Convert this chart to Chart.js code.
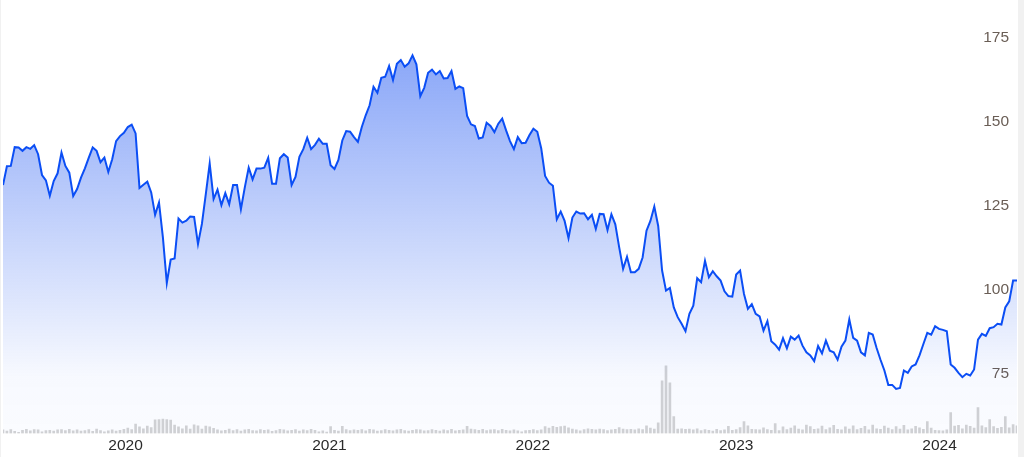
<!DOCTYPE html>
<html>
<head>
<meta charset="utf-8">
<script src="https://cdn.jsdelivr.net/npm/chart.js@4.4.1/dist/chart.umd.min.js"></script>
<style>
  html, body { margin: 0; padding: 0; background: #f1f1f1; }
  #wrap { position: absolute; left: 1px; top: 0; width: 1017px; height: 457px; background: #fff; }
</style>
</head>
<body>
<div id="wrap"><canvas id="priceChart"></canvas></div>
<script>
// Cierres semanales, empezando la semana del 26 de mayo de 2019
const startDate = Date.UTC(2019, 4, 26);

const closes = [
  131.2,136.8,136.9,142.5,142.4,141.4,142.5,142.0,143.1,140.4,
  134.2,132.6,128.0,132.4,134.7,140.9,136.9,134.9,127.9,130.0,
  133.4,136.2,139.4,142.4,141.4,138.0,139.4,135.1,138.9,144.3,
  145.8,146.8,148.5,149.2,146.6,130.3,131.3,132.2,129.0,122.3,
  126.0,115.6,102.0,109.0,109.3,121.2,120.0,120.6,121.8,121.7,
  113.6,119.6,128.5,137.6,
  127.0,129.8,125.2,128.8,125.5,131.2,131.2,124.0,130.5,136.4,
  132.9,136.1,136.1,136.4,139.3,131.6,131.6,139.2,140.4,139.4,
  131.2,133.6,139.6,141.9,145.3,141.9,143.2,145.0,143.5,143.5,
  137.1,136.0,138.7,144.5,147.3,147.1,145.5,144.1,148.5,152.0,
  155.0,160.5,158.7,163.2,163.5,166.7,162.5,167.4,168.5,166.5,
  167.5,
  169.9,167.2,157.7,160.2,164.7,165.6,164.2,165.2,163.0,163.1,
  165.2,159.9,160.6,160.1,151.8,149.3,148.8,145.1,145.4,149.8,
  148.8,147.0,149.5,151.0,147.5,144.3,141.9,145.5,143.7,143.8,
  146.1,148.0,147.1,142.2,133.9,131.9,131.0,121.0,123.3,120.5,
  115.4,121.5,123.3,122.7,122.8,121.0,122.3,118.1,122.6,122.5,
  117.8,
  122.5,119.5,112.6,106.2,109.8,105.2,105.2,106.2,109.6,117.6,
  120.5,124.8,119.0,105.7,99.7,100.5,94.7,91.8,89.8,87.6,
  92.8,95.2,103.4,102.2,108.6,103.7,105.5,104.0,102.7,99.5,
  98.1,97.9,104.5,105.7,98.7,94.3,95.7,92.8,92.0,87.8,
  90.6,84.6,83.6,82.1,85.5,82.5,86.0,85.1,86.3,
  83.3,81.3,80.4,78.7,83.2,81.0,84.8,81.8,81.3,79.1,
  83.0,84.8,91.1,85.6,84.8,81.3,80.4,87.1,86.6,82.6,
  79.1,75.9,71.6,71.6,70.4,70.7,75.9,75.2,77.1,77.7,
  80.4,83.8,87.1,86.6,89.1,88.3,88.0,87.6,77.7,76.7,
  75.2,73.9,74.9,74.4,76.2,85.1,86.8,86.2,88.5,88.8,
  89.8,89.6,94.7,96.5,102.7,102.7
];

// Volumen semanal (millones, aproximado)
const volumes = [
  1.2,0.8,1.3,0.7,0.4,1.1,1.4,0.9,1.3,1.2,0.6,1.0,1.1,0.8,1.2,1.3,1.0,1.4,0.9,1.2,0.8,1.0,1.3,0.7,1.5,1.0,0.6,0.9,1.2,0.8,1.1,
  1.4,1.8,1.3,3.2,2.2,1.6,2.5,
  2.0,4.6,4.7,4.8,4.7,4.5,
  2.8,2.2,1.6,2.6,1.5,2.9,2.6,1.5,2.5,2.2,1.7,
  1.2,0.9,1.1,1.5,1.0,1.3,0.8,1.2,1.4,1.0,0.9,1.3,1.1,1.2,0.7,1.0,1.4,1.2,0.9,1.1,1.3,0.8,1.2,1.0,1.4,1.1,0.6,0.9,
  0.5,2.3,1.1,0.8,2.4,1.3,1.0,1.2,
  1.1,1.3,0.9,1.4,1.2,0.8,1.0,1.3,1.1,0.9,1.2,1.4,1.0,0.8,1.1,1.3,1.2,0.9,1.0,1.3,1.1,0.8,1.2,1.0,1.4,0.9,1.1,1.2,2.4,1.5,1.3,1.1,1.4,1.0,1.2,
  1.3,1.0,1.4,1.1,0.9,
  1.2,0.9,0.6,1.0,1.1,1.3,1.0,1.2,2.3,1.8,2.4,2.1,2.3,2.5,1.9,1.5,
  1.2,0.9,1.3,1.6,1.4,1.2,1.5,1.3,1.0,1.2,1.4,2.0,1.5,1.3,1.4,1.2,1.6,1.3,2.6,1.8,1.5,
  3.6,17.7,22.7,17.0,5.7,
  1.5,1.6,1.4,1.5,1.2,1.6,1.0,1.3,1.1,0.8,1.4,1.0,1.2,2.4,1.1,1.3,2.0,4.0,2.6,1.4,1.3,1.2,1.9,1.3,1.1,
  3.3,1.0,2.2,
  1.3,1.8,2.6,1.5,1.2,2.8,2.3,1.4,1.6,2.5,1.3,1.9,2.7,1.4,1.2,2.2,1.5,2.6,1.3,1.7,2.4,1.2,2.8,1.6,1.4,2.5,1.8,1.3,2.3,1.5,2.7,1.2,1.6,2.4,1.9,1.4,
  4.0,1.8,1.1,1.0,0.9,1.2,
  7.0,2.5,2.7,1.6,2.8,2.4,1.8,8.7,2.6,2.0,4.7,2.3,1.7,2.1,5.7,1.9,3.0,2.6
];

const years = [2020, 2021, 2022, 2023, 2024];
const priceTicks = [75, 100, 125, 150, 175];

const DAY = 86400000;
const yearDays = years.map(y => (Date.UTC(y, 0, 1) - startDate) / DAY);
const pricePoints = closes.map((c, i) => ({ x: i * 7, y: c }));
const volumePoints = volumes.map((v, i) => ({ x: i * 7, y: v }));

const fontFamily = "'Liberation Sans', Arial, sans-serif";

function fillGradient(context) {
    const chart = context.chart;
    const area = chart.chartArea;
    if (!area) return 'rgba(10,70,240,0.2)';
    const g = chart.ctx.createLinearGradient(0, area.top, 0, area.bottom);
    g.addColorStop(0, 'rgba(10,70,240,0.55)');
    g.addColorStop(0.87, 'rgba(10,70,240,0.03)');
    g.addColorStop(1, 'rgba(10,70,240,0.02)');
    return g;
}

new Chart('priceChart', {
    type: 'line',
    data: {
        datasets: [{
            type: 'line',
            data: pricePoints,
            yAxisID: 'y',
            borderColor: '#0b4ef5',
            borderWidth: 2,
            backgroundColor: fillGradient,
            fill: 'start',
            tension: 0,
            pointRadius: 0,
            order: 0
        }, {
            type: 'bar',
            data: volumePoints,
            yAxisID: 'yv',
            backgroundColor: '#d3d3d3',
            barThickness: 2,
            order: 1
        }]
    },
    options: {
        responsive: true,
        maintainAspectRatio: false,
        animation: false,
        layout: { padding: { left: 2, right: 1, top: 0, bottom: 0 } },
        plugins: {
            legend: { display: false },
            tooltip: { enabled: false }
        },
        scales: {
            x: {
                type: 'linear',
                min: 0,
                max: (closes.length - 1) * 7,
                offset: false,
                grid: { display: false, drawTicks: false },
                border: { display: false },
                afterBuildTicks: s => { s.ticks = yearDays.map(v => ({ value: v })); },
                ticks: {
                    autoSkip: false,
                    maxRotation: 0,
                    padding: 4,
                    color: '#2a2a2a',
                    font: { size: 15.5, family: fontFamily, lineHeight: 1 },
                    callback: v => years[yearDays.indexOf(v)]
                }
            },
            y: {
                position: 'right',
                min: 57.1,
                max: 186,
                grid: { display: false, drawTicks: false },
                border: { display: false },
                afterBuildTicks: s => { s.ticks = priceTicks.map(v => ({ value: v })); },
                afterFit: s => { s.width = 0; },
                ticks: {
                    mirror: true,
                    padding: -8,
                    color: '#6a5e56',
                    font: { size: 15.5, family: fontFamily }
                }
            },
            yv: {
                display: false,
                min: 0,
                max: 145
            }
        }
    }
});
</script>
</body>
</html>
